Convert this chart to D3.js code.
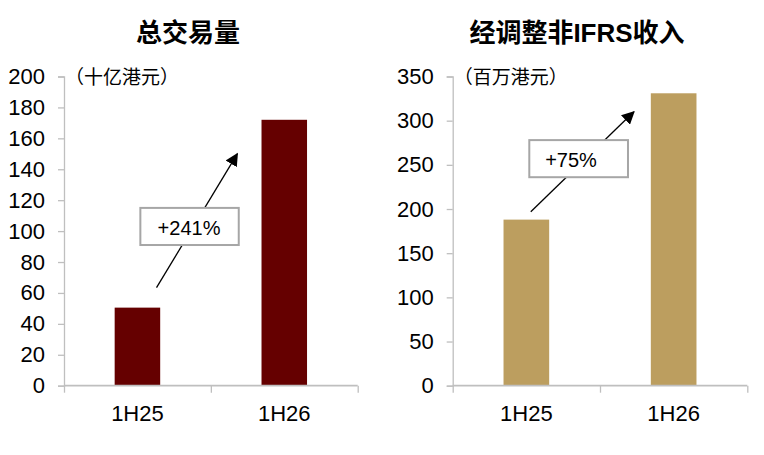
<!DOCTYPE html>
<html>
<head>
<meta charset="utf-8">
<script src="https://cdn.jsdelivr.net/npm/d3@7"></script>
<style>
  body { margin: 0; background: #fff; }
  svg { display: block; }
  text { font-family: "Liberation Sans", Arial, "Noto Sans CJK SC", sans-serif; fill: #000; }
</style>
</head>
<body>
<svg id="chart" width="764" height="455"></svg>
<script>
// dati
const categories = ["1H25", "1H26"];
const volumeValues = [50.5, 172];
const revenueValues = [188, 331];
const volumeTicks = [0, 20, 40, 60, 80, 100, 120, 140, 160, 180, 200];
const revenueTicks = [0, 50, 100, 150, 200, 250, 300, 350];

const svg = d3.select("#chart");

// defs freccia
svg.append("defs").append("marker")
    .attr("id", "arrow")
    .attr("viewBox", "0 0 10 10")
    .attr("refX", 9)
    .attr("refY", 5)
    .attr("markerWidth", 13)
    .attr("markerHeight", 13)
    .attr("markerUnits", "userSpaceOnUse")
    .attr("orient", "auto")
    .append("path")
    .attr("d", "M0,0 L10,5 L0,10 Z")
    .attr("fill", "#000");

function drawPanel(opt) {
    const g = svg.append("g");
    const x = d3.scaleBand().domain(categories).range([opt.x0, opt.x1]);
    // scala per le annotazioni (unità di categoria)
    const xa = d3.scaleLinear().domain([0, 2]).range([opt.x0, opt.x1]);
    const y = d3.scaleLinear().domain([0, opt.max]).range([385.7, 76.5]);

    // titolo
    g.append("text")
        .attr("x", opt.titleX)
        .attr("y", 42)
        .attr("text-anchor", "middle")
        .attr("font-size", 26)
        .attr("font-weight", "bold")
        .text(opt.title);

    // unità
    g.append("text")
        .attr("x", opt.x0 + 1)
        .attr("y", 84)
        .attr("font-size", 19)
        .text(opt.unit);

    // barre
    const bw = x.bandwidth() * 0.31;
    g.selectAll("rect.bar")
        .data(opt.values)
        .enter()
        .append("rect")
        .attr("class", "bar")
        .attr("x", (d, i) => x(categories[i]) + x.bandwidth() / 2 - bw / 2)
        .attr("y", d => y(d))
        .attr("width", bw)
        .attr("height", d => y(0) - y(d))
        .attr("fill", opt.color);

    // asse y
    const yAxis = d3.axisLeft(y).tickValues(opt.ticks).tickSize(6).tickPadding(13);
    const ya = g.append("g").attr("transform", "translate(" + opt.x0 + ",0)").call(yAxis);
    ya.select(".domain").attr("stroke", "#bfbfbf").attr("stroke-width", 1.3);
    ya.selectAll(".tick line").attr("stroke", "#bfbfbf").attr("stroke-width", 1.3);
    ya.selectAll(".tick text")
        .attr("font-size", 22)
        .attr("fill", "#000");

    // asse x
    const xAxis = d3.axisBottom(xa).tickValues([0, 1, 2]).tickSize(7).tickFormat("");
    const xg = g.append("g").attr("transform", "translate(0," + y(0) + ")").call(xAxis);
    xg.select(".domain").attr("stroke", "#bfbfbf").attr("stroke-width", 1.8).attr("d", "M" + opt.x0 + ",0H" + opt.x1);
    xg.selectAll(".tick line").attr("stroke", "#bfbfbf").attr("stroke-width", 1.3);

    g.selectAll("text.cat")
        .data(categories)
        .enter()
        .append("text")
        .attr("class", "cat")
        .attr("x", d => x(d) + x.bandwidth() / 2)
        .attr("y", 421)
        .attr("text-anchor", "middle")
        .attr("font-size", 22)
        .text(d => d);

    // freccia
    const a = opt.arrow;
    g.append("line")
        .attr("x1", xa(a[0])).attr("y1", y(a[1]))
        .attr("x2", xa(a[2])).attr("y2", y(a[3]))
        .attr("stroke", "#000")
        .attr("stroke-width", 1.3)
        .attr("marker-end", "url(#arrow)");

    // riquadro
    const b = opt.box;
    g.append("rect")
        .attr("x", xa(b[0])).attr("y", y(b[1]))
        .attr("width", xa(b[2]) - xa(b[0]))
        .attr("height", y(b[3]) - y(b[1]))
        .attr("fill", "#fff")
        .attr("stroke", "#a6a6a6")
        .attr("stroke-width", 2);

    g.append("text")
        .attr("x", opt.labelX)
        .attr("y", y(b[3]) - 10)
        .attr("text-anchor", "middle")
        .attr("font-size", 20)
        .text(opt.label);
}

drawPanel({
    title: "总交易量", titleX: 188, unit: "（十亿港元）",
    x0: 64, x1: 357.7, max: 200, ticks: volumeTicks,
    values: volumeValues, color: "#650000",
    arrow: [0.63, 63.4, 1.18, 150], box: [0.52, 115, 1.19, 91],
    label: "+241%", labelX: 189
});

drawPanel({
    title: "经调整非IFRS收入", titleX: 577, unit: "（百万港元）",
    x0: 452.7, x1: 747.3, max: 350, ticks: revenueTicks,
    values: revenueValues, color: "#bc9e5f",
    arrow: [0.53, 197, 1.23, 310], box: [0.52, 278, 1.19, 236],
    label: "+75%", labelX: 571
});
</script>
</body>
</html>
